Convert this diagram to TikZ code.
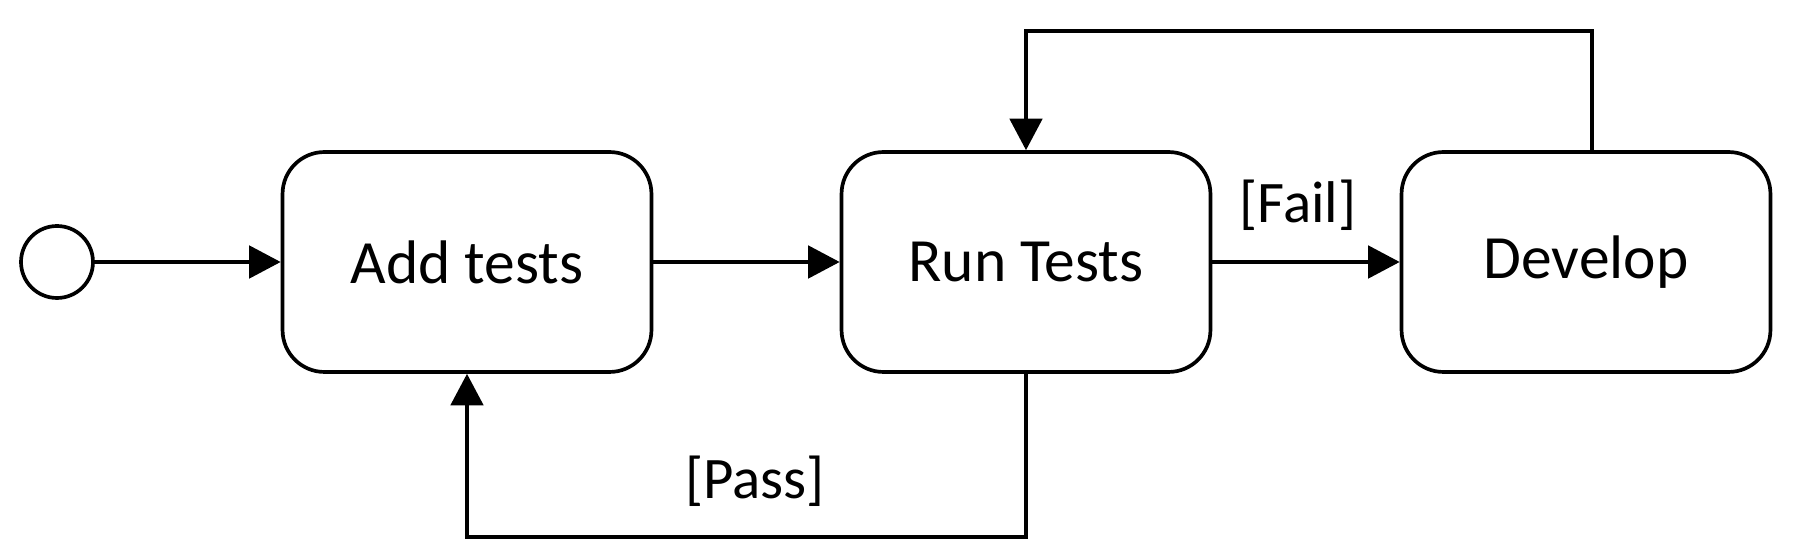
\documentclass[tikz,border=0pt]{standalone}
\usepackage{fontspec}
\setmainfont{Carlito}
\usetikzlibrary{arrows.meta}
\begin{document}
\begin{tikzpicture}[x=0.02cm,y=-0.02cm,
  statebox/.style={draw, line width=2.1pt, rectangle, rounded corners=0.84cm,
    minimum width=7.38cm, minimum height=4.4cm, inner sep=0pt,
    font=\fontsize{35}{42}\selectfont},
  initstate/.style={draw, line width=2.1pt, circle, minimum size=1.44cm, inner sep=0pt},
  guard/.style={inner sep=0pt, font=\fontsize{33.5}{40}\selectfont},
  arr/.style={draw, line width=2.1pt, -{Triangle[length=18pt,width=18.5pt]}}]
\useasboundingbox (0,0) rectangle (1800,560);
\node[initstate] (start) at (57,262) {};
\node[statebox] (add) at (467,262) {Add tests};
\node[statebox] (run) at (1026,262) {Run Tests};
\node[statebox] (dev) at (1586,262) {Develop};
\node[guard] (fail) at (1298,205) {[Fail]};
\node[guard] (pass) at (755,481) {[Pass]};
\coordinate (loopT) at (1026,31);
\coordinate (loopB) at (467,537);
\draw[arr] (start) -- (add);
\draw[arr] (add) -- (run);
\draw[arr] (run) -- (dev);
\draw[arr] ([xshift=0.12cm]dev.north) |- (loopT) -- (run.north);
\draw[arr] (run.south) |- (loopB) -- (add.south);
\end{tikzpicture}
\end{document}
